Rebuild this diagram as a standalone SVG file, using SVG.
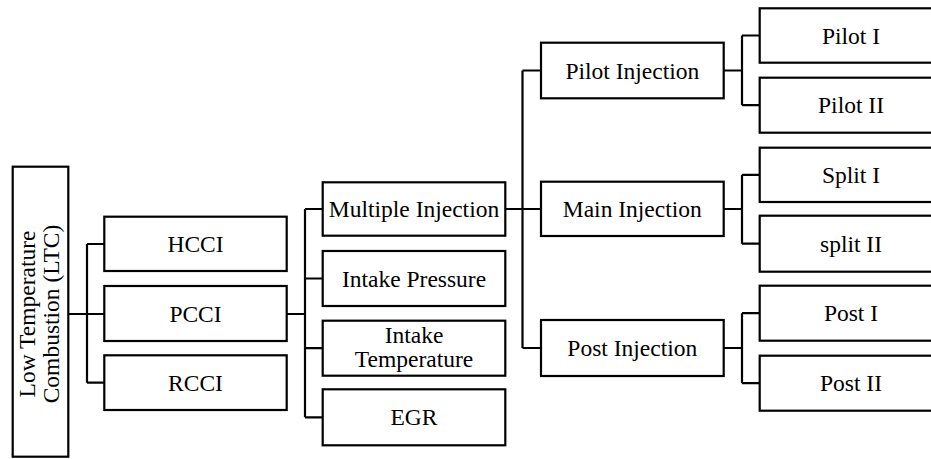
<svg xmlns="http://www.w3.org/2000/svg" width="931" height="459" viewBox="0 0 931 459">
<style>
.b{fill:#fff;stroke:#000;stroke-width:2.2}
.t{font-family:'Liberation Serif','Times New Roman','DejaVu Serif',serif;font-size:23.5px;fill:#000;text-anchor:middle}
.c{fill:none;stroke:#000;stroke-width:2.2}
</style>
<rect width="931" height="459" fill="#fff"/>
<g id="connectors">
<path class="c" d="M68 314H104M87 244V382.7M87 244H104M87 382.7H104"/>
<path class="c" d="M287 314H305M305 209V417.3M305 209H323M305 278.5H323M305 348.2H323M305 417.3H323"/>
<path class="c" d="M505 209H541M522.5 70.5V348M522.5 70.5H541M522.5 348H541"/>
<path class="c" d="M724 70.5H742M742 35.5V105.2M742 35.5H760M742 105.2H760"/>
<path class="c" d="M724 209H742M742 174.8V243.7M742 174.8H760M742 243.7H760"/>
<path class="c" d="M724 348H742M742 313.2V383.2M742 313.2H760M742 383.2H760"/>
</g>
<g id="ltc" font-family="Liberation Serif, serif"><rect class="b" x="12.7" y="166.7" width="55.6" height="290"/>
<text class="t" transform="translate(40.5,314) rotate(-90)"><tspan x="0" y="-5.5">Low Temperature</tspan><tspan x="0" y="18.5">Combustion (LTC)</tspan></text></g>
<g id="hcci"><rect class="b" x="104.3" y="216.7" width="182.4" height="54.3"/><text class="t" x="195.5" y="252">HCCI</text></g>
<g id="pcci"><rect class="b" x="104.3" y="286" width="182.4" height="55"/><text class="t" x="195.5" y="321.5">PCCI</text></g>
<g id="rcci"><rect class="b" x="104.3" y="355.3" width="182.4" height="54.7"/><text class="t" x="195.5" y="390.5">RCCI</text></g>
<g id="multiple"><rect class="b" x="322.7" y="182.3" width="182.6" height="53.4"/><text class="t" x="414" y="217">Multiple Injection</text></g>
<g id="pressure"><rect class="b" x="322.7" y="251" width="182.6" height="55"/><text class="t" x="414" y="286.5">Intake Pressure</text></g>
<g id="temperature"><rect class="b" x="322.7" y="320.7" width="182.6" height="55"/><text class="t" x="414" y="343">Intake</text><text class="t" x="414" y="367">Temperature</text></g>
<g id="egr"><rect class="b" x="322.7" y="389.3" width="182.6" height="56"/><text class="t" x="414" y="425">EGR</text></g>
<g id="pilot"><rect class="b" x="541" y="42.7" width="182.7" height="55.6"/><text class="t" x="632.3" y="78.5">Pilot Injection</text></g>
<g id="main"><rect class="b" x="541" y="181.7" width="182.7" height="54.3"/><text class="t" x="632.3" y="217">Main Injection</text></g>
<g id="post"><rect class="b" x="541" y="320" width="182.7" height="56"/><text class="t" x="632.3" y="356">Post Injection</text></g>
<g id="pilot1"><rect class="b" x="759.7" y="8.3" width="190" height="54.4"/><text class="t" x="851" y="43.5">Pilot I</text></g>
<g id="pilot2"><rect class="b" x="759.7" y="77.7" width="190" height="55"/><text class="t" x="851" y="113">Pilot II</text></g>
<g id="split1"><rect class="b" x="759.7" y="147.7" width="190" height="54.3"/><text class="t" x="851" y="183">Split I</text></g>
<g id="split2"><rect class="b" x="759.7" y="215.7" width="190" height="56"/><text class="t" x="851" y="251.5">split II</text></g>
<g id="post1"><rect class="b" x="759.7" y="285.7" width="190" height="55"/><text class="t" x="851" y="321">Post I</text></g>
<g id="post2"><rect class="b" x="759.7" y="355.7" width="190" height="55"/><text class="t" x="851" y="391">Post II</text></g>
</svg>
